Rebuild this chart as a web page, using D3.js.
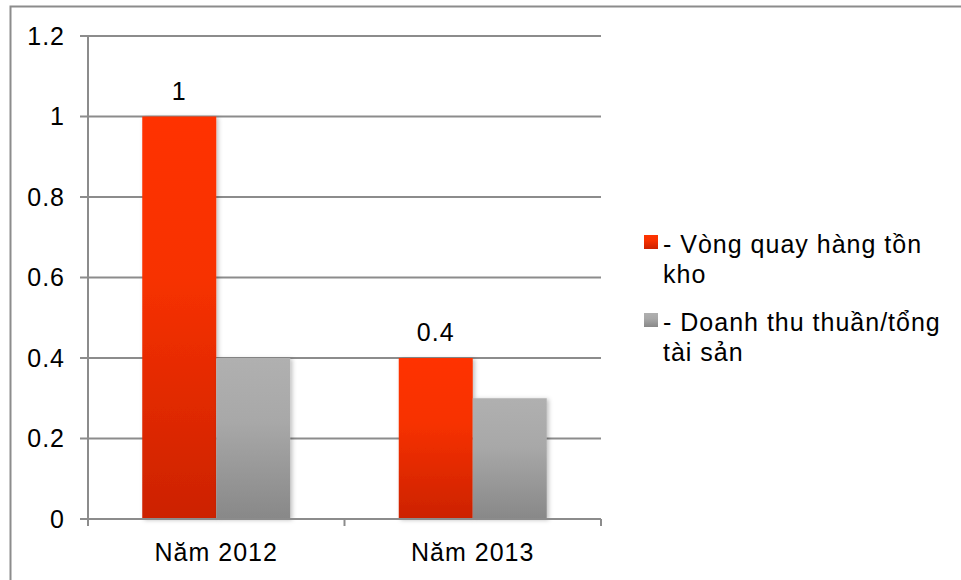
<!DOCTYPE html>
<html>
<head>
<meta charset="utf-8">
<script src="https://cdn.jsdelivr.net/npm/d3@7"></script>
<style>
  body { margin: 0; background: #fff; }
  svg { font-family: "Liberation Sans", Arial, sans-serif; }
  svg text { letter-spacing: 1px; }
</style>
</head>
<body>
<div id="chart"></div>
<script>
// Du lieu
var categories = ['Năm 2012', 'Năm 2013'];
var seriesNames = ['- Vòng quay hàng tồn kho', '- Doanh thu thuần/tổng tài sản'];
var inventoryTurnover = [1, 0.4];
var revenueToAssets = [0.4, 0.3];
var yTicks = [0, 0.2, 0.4, 0.6, 0.8, 1, 1.2];

var width = 961, height = 580;
var margin = { top: 36, left: 88, right: 360, bottom: 61 };
var plotW = 601 - margin.left;
var plotH = 519 - margin.top;
var fs = 25;

var svg = d3.select('#chart').append('svg')
    .attr('width', width)
    .attr('height', height);

var defs = svg.append('defs');
var gRed = defs.append('linearGradient').attr('id', 'gRed')
    .attr('x1', 0).attr('y1', 0).attr('x2', 0).attr('y2', 1);
gRed.append('stop').attr('offset', '0%').attr('stop-color', '#ff3300');
gRed.append('stop').attr('offset', '40%').attr('stop-color', '#f73100');
gRed.append('stop').attr('offset', '100%').attr('stop-color', '#cc2200');
var gGray = defs.append('linearGradient').attr('id', 'gGray')
    .attr('x1', 0).attr('y1', 0).attr('x2', 0).attr('y2', 1);
gGray.append('stop').attr('offset', '0%').attr('stop-color', '#b0b0b0');
gGray.append('stop').attr('offset', '40%').attr('stop-color', '#a8a8a8');
gGray.append('stop').attr('offset', '100%').attr('stop-color', '#888888');
var shadow = defs.append('filter').attr('id', 'shadow')
    .attr('x', '-20%').attr('y', '-5%').attr('width', '140%').attr('height', '110%');
shadow.append('feDropShadow').attr('dx', 2).attr('dy', 1).attr('stdDeviation', 2)
    .attr('flood-color', '#000').attr('flood-opacity', 0.25);

// Khung ngoai
svg.append('rect')
    .attr('x', 10.5).attr('y', 6.5)
    .attr('width', 1000).attr('height', 1000)
    .attr('fill', 'none').attr('stroke', '#8c8c8c').attr('stroke-width', 2);

var g = svg.append('g')
    .attr('transform', 'translate(' + margin.left + ',' + margin.top + ')');

var y = d3.scaleLinear().domain([0, 1.2]).range([plotH, 0]);
var x0 = d3.scaleBand().domain(categories).range([0, plotW]);
var x1 = d3.scaleBand().domain([0, 1]).range([0, 148 / 256.5 * x0.bandwidth()])
    .paddingInner(0);
var groupOffset = (x0.bandwidth() - x1.range()[1]) / 2;

// Luoi ngang
g.append('g').selectAll('line')
    .data(yTicks.filter(function (d) { return d > 0; }))
    .enter().append('line')
    .attr('x1', -8).attr('x2', plotW)
    .attr('y1', function (d) { return y(d); })
    .attr('y2', function (d) { return y(d); })
    .attr('stroke', '#8c8c8c').attr('stroke-width', 2);

// Truc Y
g.append('line')
    .attr('x1', 0).attr('x2', 0).attr('y1', 0).attr('y2', plotH + 5)
    .attr('stroke', '#8c8c8c').attr('stroke-width', 2);
g.append('line')
    .attr('x1', -8).attr('x2', 0).attr('y1', plotH).attr('y2', plotH)
    .attr('stroke', '#8c8c8c').attr('stroke-width', 2);
g.append('g').selectAll('text')
    .data(yTicks)
    .enter().append('text')
    .attr('x', -23)
    .attr('y', function (d) { return y(d); })
    .attr('dy', '0.35em')
    .attr('text-anchor', 'end')
    .attr('font-size', fs)
    .text(function (d) { return d; });

// Bar
var series = [inventoryTurnover, revenueToAssets];
var fills = ['url(#gRed)', 'url(#gGray)'];
var groups = g.selectAll('.grp')
    .data(categories)
    .enter().append('g')
    .attr('class', 'grp')
    .attr('transform', function (d) { return 'translate(' + (x0(d) + groupOffset) + ',0)'; });

groups.selectAll('rect')
    .data(function (d, i) { return series.map(function (s, k) { return { k: k, v: s[i] }; }); })
    .enter().append('rect')
    .attr('x', function (d) { return x1(d.k); })
    .attr('width', x1.bandwidth())
    .attr('y', function (d) { return y(d.v); })
    .attr('height', function (d) { return plotH - y(d.v); })
    .attr('fill', function (d) { return fills[d.k]; })
    .attr('filter', 'url(#shadow)');

// Nhan gia tri cho series 1
groups.append('text')
    .attr('x', x1(0) + x1.bandwidth() / 2)
    .attr('y', function (d, i) { return y(inventoryTurnover[i]) - 17; })
    .attr('text-anchor', 'middle')
    .attr('font-size', fs)
    .text(function (d, i) { return inventoryTurnover[i]; });

// Truc X
g.append('line')
    .attr('x1', 0).attr('x2', plotW).attr('y1', plotH).attr('y2', plotH)
    .attr('stroke', '#8c8c8c').attr('stroke-width', 2);
g.append('g').selectAll('line')
    .data([0, 1, 2])
    .enter().append('line')
    .attr('x1', function (d) { return d * x0.bandwidth(); })
    .attr('x2', function (d) { return d * x0.bandwidth(); })
    .attr('y1', plotH).attr('y2', plotH + 7)
    .attr('stroke', '#8c8c8c').attr('stroke-width', 2);
g.append('g').selectAll('text')
    .data(categories)
    .enter().append('text')
    .attr('x', function (d) { return x0(d) + x0.bandwidth() / 2; })
    .attr('y', plotH + 42)
    .attr('text-anchor', 'middle')
    .attr('font-size', fs)
    .text(function (d) { return d; });

// Chu giai
var legendLines = [['- Vòng quay hàng tồn', 'kho'], ['- Doanh thu thuần/tổng', 'tài sản']];
var legendFill = ['url(#gRed)', 'url(#gGray)'];
var legend = svg.selectAll('.lg')
    .data(seriesNames)
    .enter().append('g')
    .attr('class', 'lg')
    .attr('transform', function (d, i) { return 'translate(644,' + (235 + i * 78) + ')'; });
legend.append('rect')
    .attr('width', 14).attr('height', 14)
    .attr('fill', function (d, i) { return legendFill[i]; });
legend.append('text')
    .attr('y', 18)
    .attr('font-size', fs)
    .selectAll('tspan')
    .data(function (d, i) { return legendLines[i]; })
    .enter().append('tspan')
    .attr('x', function (d, j) { return j === 0 ? 19 : 19; })
    .attr('dy', function (d, j) { return j === 0 ? 0 : 30; })
    .text(function (d) { return d; });
</script>
</body>
</html>
